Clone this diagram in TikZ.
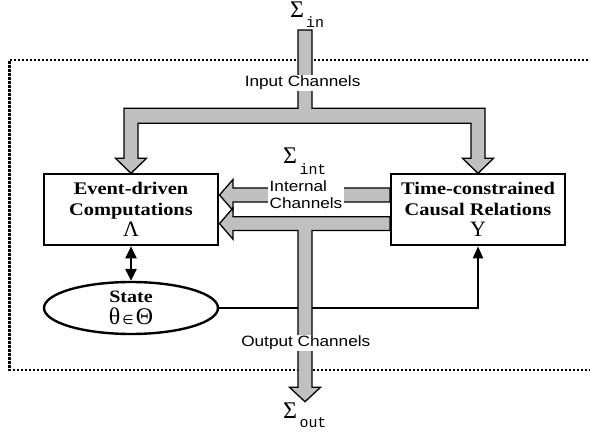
\documentclass[tikz,border=0pt]{standalone}
\usepackage{fontspec}
\setmainfont[FakeStretch=1.15]{Liberation Serif}
\newfontfamily\chanfont[FakeStretch=1.15]{Liberation Sans}
\newfontfamily\greekfont{Liberation Serif}
\newfontfamily\ttsub{Liberation Mono}
\newfontfamily\symfont{DejaVu Sans}
\usetikzlibrary{shapes.geometric,arrows.meta}
\definecolor{pipegray}{RGB}{192,192,192}
\pgfdeclarelayer{background}
\pgfsetlayers{background,main}
\tikzset{
  unit/.style={draw, line width=2.6bp, minimum width=174bp, minimum height=71bp, inner sep=0pt, align=center, font=\fontsize{17.8}{21}\selectfont\bfseries},
  stateoval/.style={ellipse, draw, line width=2.4bp, minimum width=174bp, minimum height=52bp, inner sep=0pt, align=center, font=\fontsize{17.5}{22}\selectfont},
  chan/.style={fill=white, inner sep=1.5bp, font=\chanfont\fontsize{15}{17}\selectfont},
  pipe/.style={draw, fill=pipegray, line width=1.3bp},
  sig/.style={inner sep=0pt, font=\greekfont\fontsize{24}{24}\selectfont},
  sub/.style={inner sep=0pt, font=\ttsub\fontsize{15}{15}\selectfont},
  frame/.style={line width=2.2bp, dash pattern=on 2.2bp off 1.8bp},
  link/.style={line width=1.8bp, -{Triangle[length=12bp,width=10bp]}},
  dbl/.style={line width=2.4bp, {Triangle[length=12bp,width=11bp]}-{Triangle[length=12bp,width=11bp]}}
}
\begin{document}
\begin{tikzpicture}[x=1bp, y=-1bp]
\useasboundingbox (0,0) rectangle (590,434);
\clip (0,0) rectangle (590,434);

% Units and state
\node[unit] (edc) at (131,209.5) {Event-driven\\Computations\\{\mdseries\greekfont\fontsize{22}{22}\selectfont Λ}};
\node[unit] (tcr) at (478,209.5) {Time-constrained\\Causal Relations\\{\mdseries\greekfont\fontsize{22}{22}\selectfont Υ}};
\node[stateoval] (state) at (131,308) {{\bfseries State}\\{\greekfont\fontsize{24}{24}\selectfont θ{\symfont\fontsize{13}{13}\selectfont\,∈\,}Θ}};
\draw[dbl] (edc.south) -- (state.north);

% Channel labels
\node[chan] (inlbl) at (302.6,83) {Input Channels};
\node[chan, align=left, anchor=west] (intlbl) at (268,195) {Internal\\Channels};
\node[chan] (outlbl) at (305.8,343) {Output Channels};

% Alphabets
\node[sig] (sigin) at (297,10) {Σ};
\node[sub] (subin) at (315,22) {in};
\node[sig] (sigint) at (290,156) {Σ};
\node[sub] (subint) at (313,169) {int};
\node[sig] (sigout) at (290,411) {Σ};
\node[sub] (subout) at (313,423) {out};

\begin{pgfonlayer}{background}
% system boundary
\draw[frame] (600,60) -- (9.4,60) -- (9.4,370) -- (600,370);
% state read by the causal relations
\draw[link] (state.east) -| (tcr.south);
% input channels
\draw[pipe] (298,30) -- (298,108.3) -- (124,108.3) -- (124,158.3) -- (115.5,158.3) -- (131,173.3)
  -- (146.5,158.3) -- (138,158.3) -- (138,123.3) -- (471,123.3) -- (471,158.3) -- (462.5,158.3)
  -- (478,173.3) -- (493.5,158.3) -- (485,158.3) -- (485,108.3) -- (312,108.3) -- (312,30) -- cycle;
% internal channels
\draw[pipe] (390,188) -- (233,188) -- (233,179.5) -- (219.5,195) -- (233,210.5) -- (233,202) -- (390,202) -- cycle;
% internal + output channels
\draw[pipe] (390,216.7) -- (233,216.7) -- (233,208) -- (219.5,223.6) -- (233,239.2) -- (233,230.5)
  -- (298,230.5) -- (298,387.3) -- (289.5,387.3) -- (305,401.7) -- (320.5,387.3) -- (312,387.3)
  -- (312,230.5) -- (390,230.5) -- cycle;
\end{pgfonlayer}
\end{tikzpicture}
\end{document}
